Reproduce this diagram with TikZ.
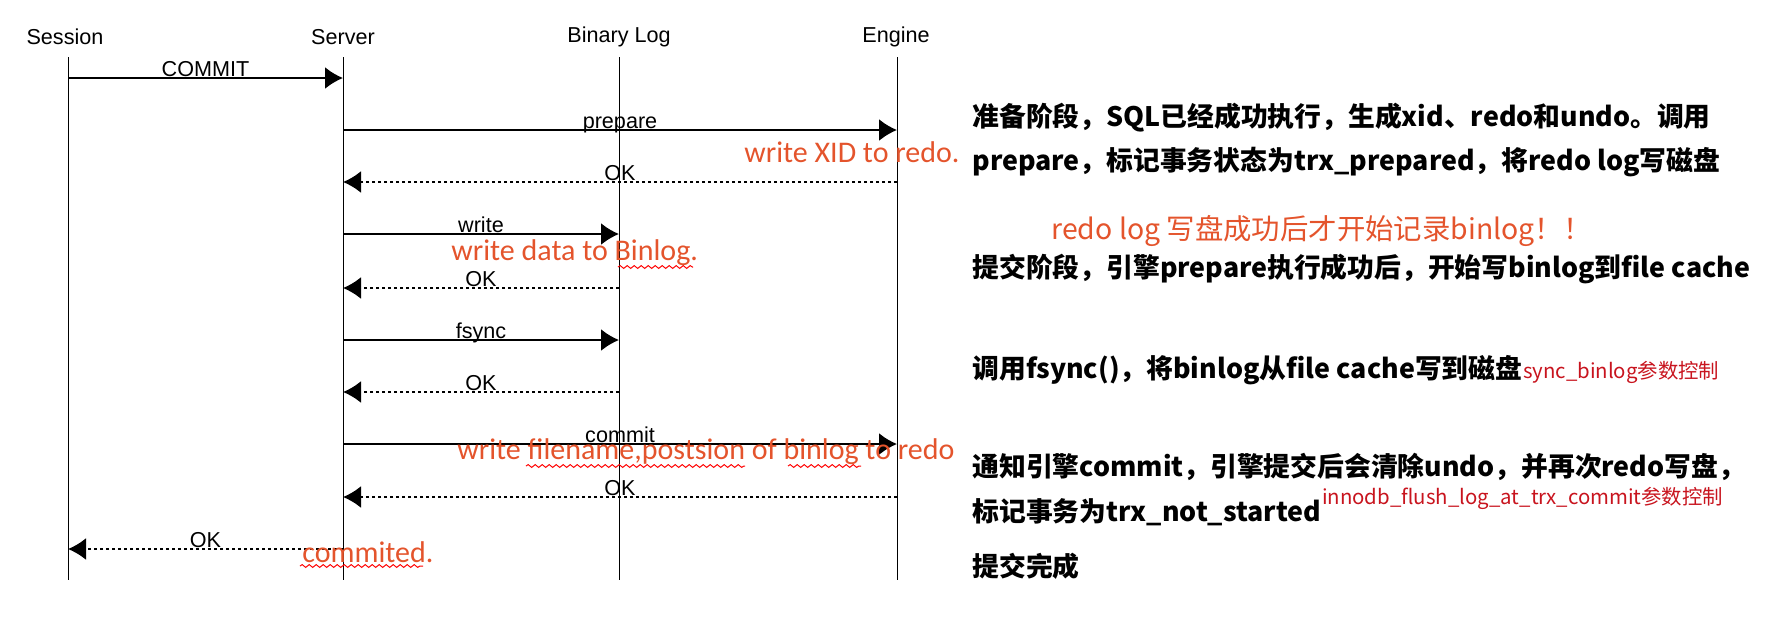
\documentclass[tikz,border=0pt]{standalone}
\usepackage{fontspec}
\setmainfont{Liberation Sans}
\newfontfamily\cjk{Noto Sans CJK SC}
\newfontfamily\notefont{Carlito}
\usetikzlibrary{arrows.meta}
\usetikzlibrary{positioning}
\usetikzlibrary{decorations.pathmorphing}
\definecolor{noteorange}{RGB}{228,84,44}
\definecolor{notered}{RGB}{200,20,30}
\tikzset{>={Latex[length=9pt,width=11pt]}}
\tikzstyle{actor} = [draw=none, inner sep=0, font=\fontsize{10.8}{12}\selectfont]
\tikzstyle{life} = [-, line width=0.5pt]
\tikzstyle{call} = [->, line width=1pt]
\tikzstyle{ret} = [->, line width=1pt, dash pattern=on 1.5pt off 1.5pt]
\tikzstyle{msg} = [midway, anchor=base, yshift=1pt, inner sep=0, font=\fontsize{10.8}{12}\selectfont]
\tikzstyle{note} = [draw=none, inner sep=0, anchor=west, text=noteorange, font=\notefont\fontsize{15}{17}\selectfont]
\tikzstyle{desc} = [draw=none, inner sep=0, anchor=west, font=\cjk\fontsize{13.4}{16}\selectfont\bfseries]
\tikzstyle{hint} = [draw=none, inner sep=0, anchor=west, text=notered, font=\cjk\fontsize{10.2}{12}\selectfont]
\tikzstyle{squiggle} = [draw=red, line width=0.5pt, decorate, decoration={snake, amplitude=0.7pt, segment length=3.5pt}]

\begin{document}
\begin{tikzpicture}[x=0.5pt, y=-0.5pt]
\useasboundingbox (0,0) rectangle (1768,628);
% actors
\node [actor] (ses) at (65,37) {Session};
\node [actor] (srv) at (343,37) {Server};
\node [actor] (bin) at (619,37) {Binary Log};
\node [actor] (eng) at (896,37) {Engine};
% life lines
\coordinate (sesT) at (68,57);  \coordinate (sesB) at (68,580);
\coordinate (srvT) at (343,57); \coordinate (srvB) at (343,580);
\coordinate (binT) at (619,57); \coordinate (binB) at (619,580);
\coordinate (engT) at (897,57); \coordinate (engB) at (897,580);
\draw [life] (sesT) to (sesB);
\draw [life] (srvT) to (srvB);
\draw [life] (binT) to (binB);
\draw [life] (engT) to (engB);
% message rows
\coordinate (ses1) at (68,78);   \coordinate (srv1) at (343,78);
\coordinate (srv2) at (343,130); \coordinate (eng2) at (897,130);
\coordinate (srv3) at (343,182); \coordinate (eng3) at (897,182);
\coordinate (srv4) at (343,234); \coordinate (bin4) at (619,234);
\coordinate (srv5) at (343,288); \coordinate (bin5) at (619,288);
\coordinate (srv6) at (343,340); \coordinate (bin6) at (619,340);
\coordinate (srv7) at (343,392); \coordinate (bin7) at (619,392);
\coordinate (srv8) at (343,444); \coordinate (eng8) at (897,444);
\coordinate (srv9) at (343,497); \coordinate (eng9) at (897,497);
\coordinate (ses10) at (68,549); \coordinate (srv10) at (343,549);
\draw [call] (ses1) to node [msg] (m1) {COMMIT} (srv1);
\draw [call] (srv2) to node [msg] (m2) {prepare} (eng2);
\draw [ret] (eng3) to node [msg] (m3) {OK} (srv3);
\draw [call] (srv4) to node [msg] (m4) {write} (bin4);
\draw [ret] (bin5) to node [msg] (m5) {OK} (srv5);
\draw [call] (srv6) to node [msg] (m6) {fsync} (bin6);
\draw [ret] (bin7) to node [msg] (m7) {OK} (srv7);
\draw [call] (srv8) to node [msg] (m8) {commit} (eng8);
\draw [ret] (eng9) to node [msg] (m9) {OK} (srv9);
\draw [ret] (srv10) to node [msg] (m10) {OK} (ses10);
% red notes on the arrows
\node [note] (n1) at (744,152) {write XID to redo.};
\node [note] (n2) at (451,253) {write data to Binlog.};
\node [note] (n3) at (457,452) {write filename,postsion of binlog to redo};
\node [note] (n4) at (302,552) {commited.};
\draw [squiggle] (618,267) -- (693,267);
\draw [squiggle] (526,466) -- (745,466);
\draw [squiggle] (788,466) -- (861,466);
\draw [squiggle] (300,566) -- (423,566);
% right side text
\node [desc] (d1) at (972,118) {准备阶段，SQL已经成功执行，生成xid、redo和undo。调用};
\node [desc] (d2) at (972,162) {prepare，标记事务状态为trx\_prepared，将redo log写磁盘};
\node [desc, font=\cjk\fontsize{14.2}{16}\selectfont, text=noteorange] (d3) at (1051,231) {redo log 写盘成功后才开始记录binlog！！};
\node [desc] (d4) at (972,269) {提交阶段，引擎prepare执行成功后，开始写binlog到file cache};
\node [desc] (d5) at (972,370) {调用fsync()，将binlog从file cache写到磁盘};
\node [hint, right=0pt of d5, yshift=-1pt] (h5) {sync\_binlog参数控制};
\node [desc] (d6) at (972,467) {通知引擎commit，引擎提交后会清除undo，并再次redo写盘，};
\node [desc] (d7) at (972,512) {标记事务为trx\_not\_started};
\node [hint, right=0pt of d7, yshift=7pt] (h7) {innodb\_flush\_log\_at\_trx\_commit参数控制};
\node [desc] (d8) at (972,566) {提交完成};
\end{tikzpicture}
\end{document}
